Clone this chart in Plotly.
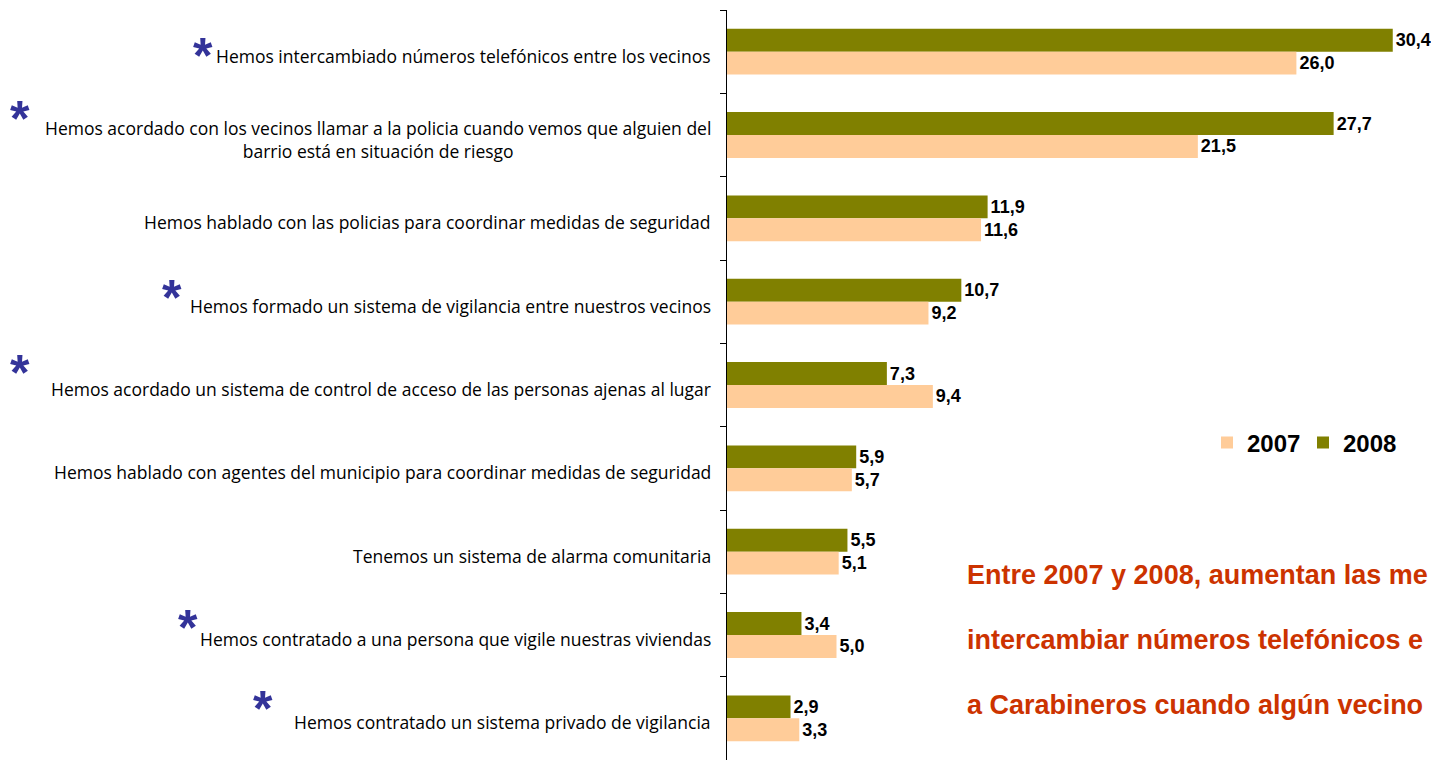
import plotly.graph_objects as go

categories = [
    "Hemos intercambiado números telefónicos entre los vecinos",
    "Hemos acordado con los vecinos llamar a la policia cuando vemos que alguien del<br>barrio está en situación de riesgo",
    "Hemos hablado con las policias para coordinar medidas de seguridad",
    "Hemos formado un sistema de vigilancia entre nuestros vecinos",
    "Hemos acordado un sistema de control de acceso de las personas ajenas al lugar",
    "Hemos hablado con agentes del municipio para coordinar medidas de seguridad",
    "Tenemos un sistema de alarma comunitaria",
    "Hemos contratado a una persona que vigile nuestras viviendas",
    "Hemos contratado un sistema privado de vigilancia",
]
values_2007 = [26.0, 21.5, 11.6, 9.2, 9.4, 5.7, 5.1, 5.0, 3.3]
values_2008 = [30.4, 27.7, 11.9, 10.7, 7.3, 5.9, 5.5, 3.4, 2.9]
series_names = ["2007", "2008"]
note_lines = [
    "Entre 2007 y 2008, aumentan las me",
    "intercambiar números telefónicos e",
    "a Carabineros cuando algún vecino",
]

# page has an 8px body margin; work in screen pixels and convert
OFF = 8
W, H = 1439 - OFF, 760 - OFF
ML, MT = 727 - OFF, 10 - OFF
PW, PH = W - ML, H - MT

def px(xs):
    return (xs - OFF - ML) / PW

def py(ys):
    return (H - (ys - OFF)) / PH

C2007 = "#FFCC99"
C2008 = "#808000"
LABEL_FONT = dict(family="Liberation Sans", size=18, color="black", weight="bold")

fig = go.Figure()
fig.add_trace(go.Bar(
    name=series_names[1], y=categories, x=values_2008, orientation="h",
    marker=dict(color=C2008, line=dict(width=0)),
    texttemplate="%{x:.1f}", textposition="outside", cliponaxis=False,
    textfont=LABEL_FONT, legendrank=2,
))
fig.add_trace(go.Bar(
    name=series_names[0], y=categories, x=values_2007, orientation="h",
    marker=dict(color=C2007, line=dict(width=0)),
    texttemplate="%{x:.1f}", textposition="outside", cliponaxis=False,
    textfont=LABEL_FONT, legendrank=1,
))

annotations = []
for c in categories:
    annotations.append(dict(
        x=0, xref="paper", y=c, yref="y", xanchor="right", yanchor="middle",
        xshift=-14, yshift=-4, text=c, showarrow=False, align="center",
        font=dict(family="Open Sans", size=17.5, color="black"),
    ))

star_pos = [(203, 50), (20, 113), (172, 292), (20, 367), (188, 622), (263, 703)]
for (sx, sy) in star_pos:
    annotations.append(dict(
        x=px(sx), y=py(sy), xref="paper", yref="paper", xanchor="center",
        yanchor="middle", yshift=-6, text="*", showarrow=False,
        font=dict(family="Liberation Sans", size=50, color="#333399", weight="bold"),
    ))

for i, line in enumerate(note_lines):
    annotations.append(dict(
        x=px(965), y=py(575 + 65 * i), xref="paper", yref="paper",
        xanchor="left", yanchor="middle", text=line, showarrow=False,
        font=dict(family="Liberation Sans", size=27, color="#CC3300", weight="bold"),
    ))

fig.update_layout(
    width=W, height=H,
    margin=dict(l=ML, r=0, t=MT, b=0, pad=0, autoexpand=False),
    paper_bgcolor="white", plot_bgcolor="white",
    barmode="group", bargap=0.45, bargroupgap=0,
    separators=",.",
    showlegend=True,
    legend=dict(
        orientation="h", x=px(1207), y=py(443), xanchor="left", yanchor="middle",
        font=dict(family="Liberation Sans", size=24, color="black", weight="bold"),
        bgcolor="rgba(0,0,0,0)", entrywidth=51, entrywidthmode="pixels",
    ),
    xaxis=dict(range=[0, PW / 21.9], showgrid=False, zeroline=False,
               showticklabels=False, showline=False, fixedrange=True),
    yaxis=dict(autorange=False, range=[8.5, -0.5], showticklabels=False,
               showline=True, linecolor="black", linewidth=1,
               ticks="outside", tickson="boundaries", ticklen=6,
               tickcolor="black", showgrid=False, zeroline=False),
    annotations=annotations,
)

fig.write_html("out.html")
